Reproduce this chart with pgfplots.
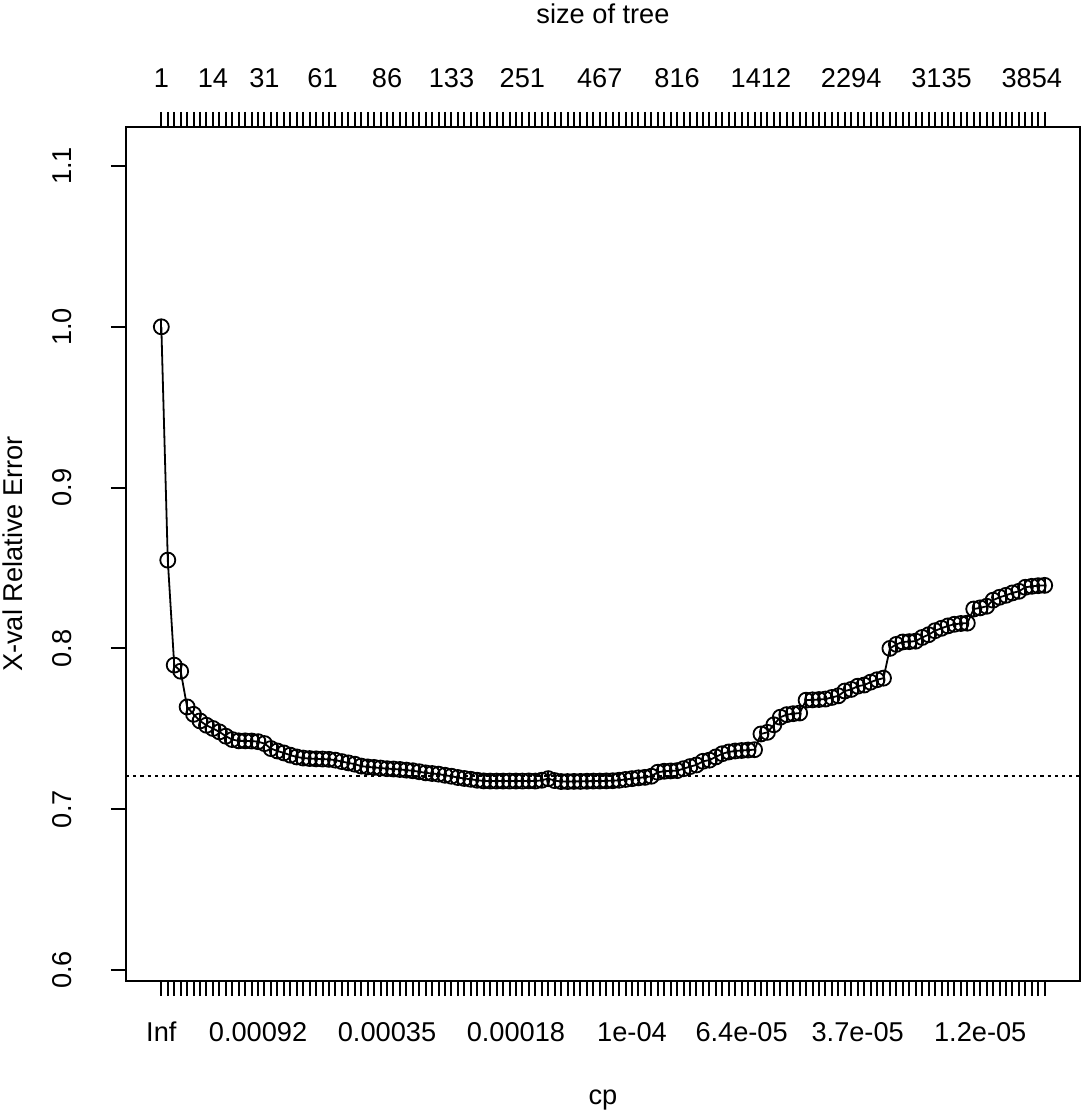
\documentclass[border=0pt]{standalone}
\usepackage{fontspec}
\setmainfont{Liberation Sans}
\usepackage{pgfplots}
\pgfplotsset{compat=1.18}
\usepackage{pgfplotstable}
\newcommand{\fs}{\fontsize{13.6}{16}\selectfont}

\pgfplotstableread{
i y
1 1.0000
2 0.8549
3 0.7896
4 0.7858
5 0.7636
6 0.7590
7 0.7549
8 0.7522
9 0.7502
10 0.7481
11 0.7454
12 0.7433
13 0.7425
14 0.7425
15 0.7424
16 0.7420
17 0.7408
18 0.7377
19 0.7362
20 0.7350
21 0.7336
22 0.7325
23 0.7318
24 0.7315
25 0.7313
26 0.7312
27 0.7310
28 0.7305
29 0.7296
30 0.7288
31 0.7280
32 0.7268
33 0.7263
34 0.7260
35 0.7256
36 0.7252
37 0.7250
38 0.7247
39 0.7243
40 0.7239
41 0.7233
42 0.7226
43 0.7222
44 0.7218
45 0.7211
46 0.7205
47 0.7197
48 0.7191
49 0.7186
50 0.7180
51 0.7176
52 0.7175
53 0.7175
54 0.7175
55 0.7175
56 0.7175
57 0.7175
58 0.7176
59 0.7175
60 0.7180
61 0.7190
62 0.7178
63 0.7172
64 0.7172
65 0.7173
66 0.7173
67 0.7174
68 0.7175
69 0.7175
70 0.7176
71 0.7177
72 0.7180
73 0.7185
74 0.7190
75 0.7195
76 0.7198
77 0.7205
78 0.7230
79 0.7236
80 0.7238
81 0.7240
82 0.7252
83 0.7265
84 0.7275
85 0.7298
86 0.7305
87 0.7325
88 0.7345
89 0.7356
90 0.7362
91 0.7365
92 0.7368
93 0.7370
94 0.7468
95 0.7478
96 0.7525
97 0.7572
98 0.7588
99 0.7594
100 0.7598
101 0.7678
102 0.7680
103 0.7682
104 0.7685
105 0.7695
106 0.7705
107 0.7735
108 0.7745
109 0.7765
110 0.7772
111 0.7790
112 0.7805
113 0.7815
114 0.8000
115 0.8025
116 0.8040
117 0.8042
118 0.8045
119 0.8068
120 0.8085
121 0.8110
122 0.8125
123 0.8140
124 0.8150
125 0.8155
126 0.8157
127 0.8245
128 0.8252
129 0.8262
130 0.8300
131 0.8318
132 0.8330
133 0.8345
134 0.8355
135 0.8380
136 0.8386
137 0.8390
138 0.8392
}\cpdata

\begin{document}
\begin{tikzpicture}
\begin{axis}[name=main, scale only axis, width=477pt, height=427pt,
  xmin=-4.48, xmax=143.48, ymin=0.59316, ymax=1.12425,
  axis line style={line width=1pt},
  tick align=outside, major tick length=7.5pt,
  tick style={line width=1pt, black},
  xtick pos=left, ytick pos=left,
  xtick={1,...,138}, xticklabels={},
  extra x ticks={1,16,36,56,74,91,109,128},
  extra x tick labels={Inf,0.00092,0.00035,0.00018,1e-04,6.4e-05,3.7e-05,1.2e-05},
  extra x tick style={major tick length=0pt, xticklabel style={anchor=base, yshift=-30pt}},
  ytick={0.6,0.7,0.8,0.9,1.0,1.1},
  yticklabels={0.6,0.7,0.8,0.9,1.0,1.1},
  yticklabel style={xshift=-19.5pt, rotate=90, anchor=base},
  tick label style={font=\fs},
  xlabel={cp}, xlabel style={at={(axis description cs:0.5,-0.14403)}, anchor=base, font=\fs},
  ylabel={X-val Relative Error}, ylabel style={at={(axis description cs:-0.10797,0.5)}, rotate=0, anchor=base, font=\fs},
  clip=false,
]
\addplot[black, line width=0.9pt, dash pattern=on 1.6pt off 2pt] coordinates {(-4.48,0.7205) (143.48,0.7205)};
\addplot[black, line width=0.9pt, mark=o, mark size=3.75pt, mark options={line width=0.9pt, solid},
  error bars/.cd, y dir=both, y fixed=0.0045, error mark=none, error bar style={line width=0.9pt}]
  table[x=i, y=y]{\cpdata};
\end{axis}
\begin{axis}[scale only axis, width=477pt, height=427pt,
  xmin=-4.48, xmax=143.48, ymin=0.59316, ymax=1.12425,
  axis x line*=top, hide y axis,
  axis line style={line width=1pt},
  tick align=outside, major tick length=7.5pt,
  tick style={line width=1pt, black},
  xtick={1,...,138}, xticklabels={},
  extra x ticks={1,9,17,26,36,46,57,69,81,94,108,122,136},
  extra x tick labels={1,14,31,61,86,133,251,467,816,1412,2294,3135,3854},
  extra x tick style={major tick length=0pt, xticklabel style={anchor=base, yshift=19.5pt}},
  tick label style={font=\fs},
  xlabel={size of tree}, xlabel style={at={(axis description cs:0.5,1.1206)}, anchor=base, font=\fs},
]
\end{axis}
\path (main.south west) ++(-63pt,-66pt) coordinate (bl);
\path (main.north east) ++(0.5pt,63.5pt) coordinate (tr);
\pgfresetboundingbox
\useasboundingbox (bl) rectangle (tr);
\end{tikzpicture}
\end{document}
